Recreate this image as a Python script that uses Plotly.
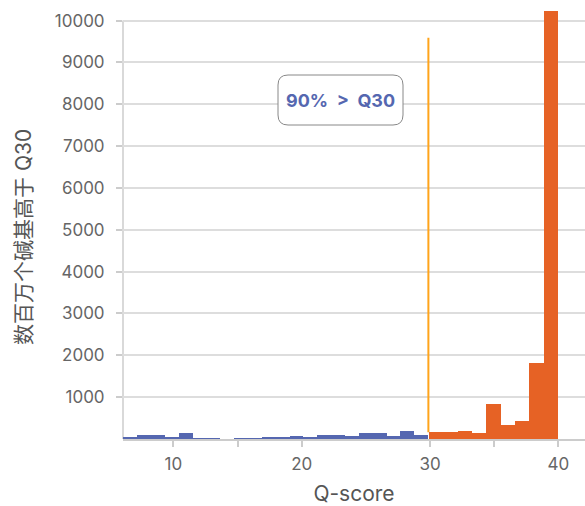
import numpy as np
import plotly.graph_objects as go

# ---- data ----
blue_values = [40, 88, 88, 40, 135, 16, 16, 0, 16, 16, 40, 40, 64, 40, 88, 88, 64, 135, 135, 64, 183, 88]
orange_values = [176, 176, 200, 152, 845, 343, 439, 1827, 10230]
blue_range = (6.1, 29.85)      # Q-score span of the below-Q30 bins
orange_range = (29.95, 39.95)  # Q-score span of the above-Q30 bins
threshold_q = 29.87
threshold_span = (160, 9590)
y_tickvals = [1000, 2000, 3000, 4000, 5000, 6000, 7000, 8000, 9000, 10000]
y_ticktext = ["1000", "2000", "3000", "4000", "5000", "6000", "7000", "8000", "9000", "10000"]
x_tickvals = [10, 15, 20, 30, 35, 40]
x_ticktext = ["10", "", "20", "30", "", "40"]
annotation_text = "90%\u00a0\u00a0>\u00a0\u00a0Q30"
x_title = "Q-score"
y_title = "数百万个碱基高于 Q30"

BLUE = "#5567b0"
ORANGE = "#e66225"
THRESH = "#ffa41b"
FONT = "Inter, Noto Sans CJK SC, sans-serif"

def bins(rng, n):
    edges = np.linspace(rng[0], rng[1], n + 1)
    return (edges[:-1] + edges[1:]) / 2, (edges[1] - edges[0])

bx, bw = bins(blue_range, len(blue_values))
ox, ow = bins(orange_range, len(orange_values))

W, H = 585, 506
ML, MR, MT, MB = 123, 0, 11, 67
XR = [6.08, 42.07]
YR = [0, 10230]

fig = go.Figure()
fig.add_trace(go.Bar(x=bx, y=blue_values, width=bw, marker=dict(color=BLUE, line=dict(width=0)),
                     hoverinfo="skip"))
fig.add_trace(go.Bar(x=ox, y=orange_values, width=ow, marker=dict(color=ORANGE, line=dict(width=0)),
                     hoverinfo="skip"))

# threshold line
fig.add_shape(type="line", x0=threshold_q, x1=threshold_q, y0=threshold_span[0], y1=threshold_span[1],
              xref="x", yref="y", line=dict(color=THRESH, width=2))
# y axis line (up to 10000 only)
fig.add_shape(type="line", x0=0, x1=0, y0=0, y1=10000, xref="paper", yref="y",
              line=dict(color="#cccccc", width=1.5), layer="below")

# pixel -> paper helpers
pw, ph = W - ML - MR, H - MT - MB
def px(x): return (x - ML) / pw
def py(y): return (H - MB - y) / ph

# rounded annotation box
x0, x1, y0, y1, r = 278, 403, 75, 125, 10
path = (f"M {px(x0+r)} {py(y0)} L {px(x1-r)} {py(y0)} Q {px(x1)} {py(y0)} {px(x1)} {py(y0+r)} "
        f"L {px(x1)} {py(y1-r)} Q {px(x1)} {py(y1)} {px(x1-r)} {py(y1)} "
        f"L {px(x0+r)} {py(y1)} Q {px(x0)} {py(y1)} {px(x0)} {py(y1-r)} "
        f"L {px(x0)} {py(y0+r)} Q {px(x0)} {py(y0)} {px(x0+r)} {py(y0)} Z")
fig.add_shape(type="path", path=path, xref="paper", yref="paper",
              line=dict(color="#888888", width=1), fillcolor="white", layer="above")
fig.add_annotation(x=px((x0 + x1) / 2), y=py((y0 + y1) / 2), xref="paper", yref="paper",
                   xanchor="center", yanchor="middle",
                   text=f"<b>{annotation_text}</b>", showarrow=False,
                   font=dict(family=FONT, size=18, color=BLUE))

# y-axis title as rotated annotation (positioned like the reference)
fig.add_annotation(x=px(23), y=py(237), xref="paper", yref="paper", xanchor="center", yanchor="middle",
                   text=y_title, textangle=-90, showarrow=False,
                   font=dict(family=FONT, size=21, color="#555555"))

fig.update_layout(
    width=W, height=H, margin=dict(l=ML, r=MR, t=MT, b=MB, autoexpand=False),
    paper_bgcolor="white", plot_bgcolor="white", showlegend=False, bargap=0, barmode="overlay",
    font=dict(family=FONT, size=17, color="#666666"),
    xaxis=dict(range=XR, tickvals=x_tickvals, ticktext=x_ticktext, showgrid=False, zeroline=False,
               showline=True, linecolor="#cccccc", linewidth=1.5, ticks="outside", ticklen=6,
               tickcolor="#cccccc", tickwidth=1.5, layer="below traces", automargin=False,
               ticklabelstandoff=3,
               tickfont=dict(size=17, color="#666666"),
               title=dict(text=x_title, font=dict(size=21, color="#555555"), standoff=20)),
    yaxis=dict(range=YR, tickvals=y_tickvals, ticktext=y_ticktext, showgrid=True, gridcolor="#dddddd",
               gridwidth=1.5, automargin=False, ticklabelstandoff=8,
               zeroline=False, showline=False, ticks="outside", ticklen=6, tickcolor="#cccccc",
               tickwidth=1.5, tickfont=dict(size=17, color="#666666"), layer="below traces"),
)

fig.write_html("out.html", config={"displayModeBar": False},
               post_script="document.body.style.margin='0';document.body.style.padding='0';")
